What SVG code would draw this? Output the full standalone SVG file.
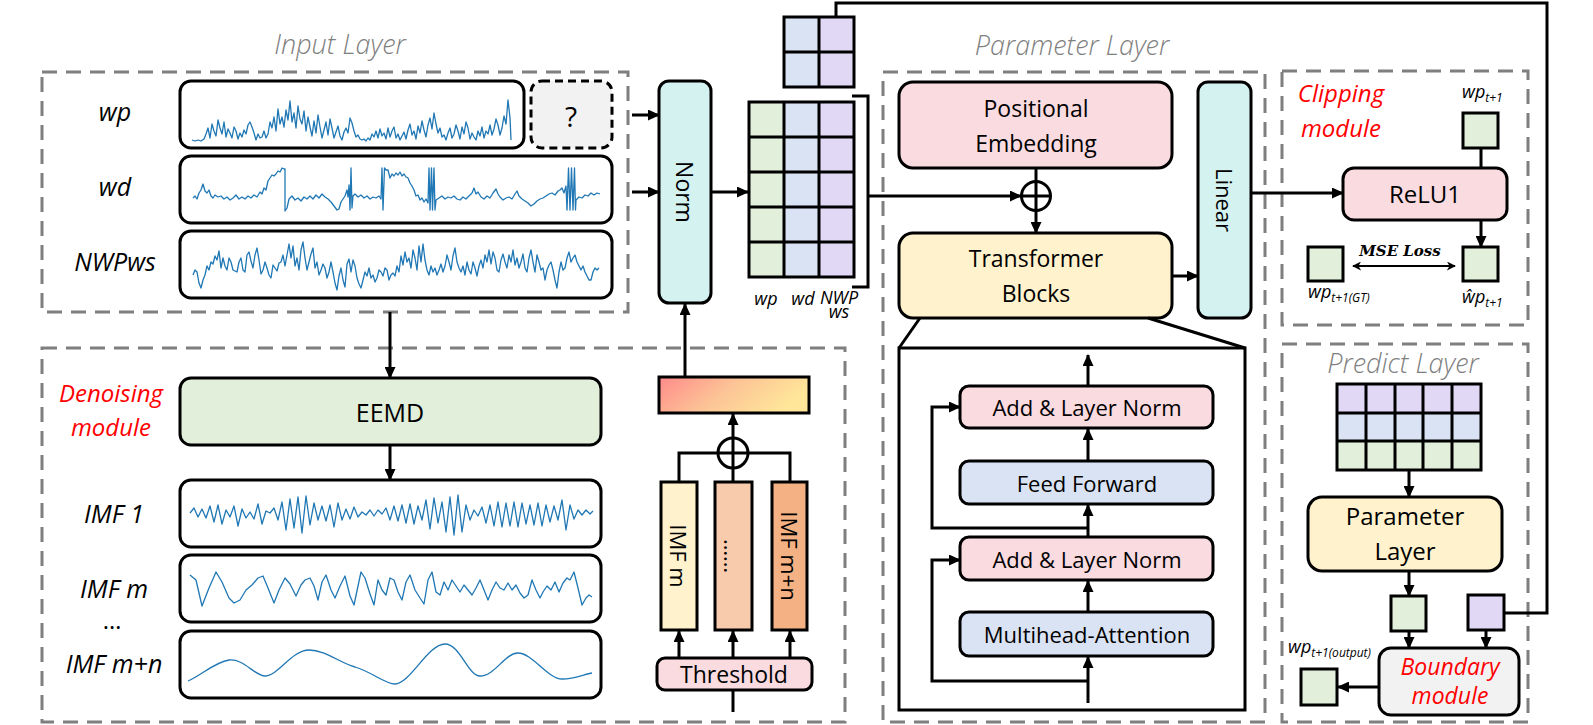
<svg xmlns="http://www.w3.org/2000/svg" width="1593" height="725" viewBox="0 0 1593 725">
<defs>
<marker id="ah" viewBox="0 0 12 11" markerWidth="12" markerHeight="11" refX="11" refY="5.5" orient="auto" markerUnits="userSpaceOnUse"><path d="M0,0 L12,5.5 L0,11 z" fill="#000"/></marker>
<marker id="ahs" viewBox="0 0 10 10" markerWidth="9" markerHeight="9" refX="9" refY="5" orient="auto-start-reverse" markerUnits="userSpaceOnUse"><path d="M0,0 L10,5 L0,10 L3,5 z" fill="#000"/></marker>
<linearGradient id="grad" x1="0" y1="0" x2="1" y2="0.3"><stop offset="0" stop-color="#ff8a8a"/><stop offset="0.5" stop-color="#fcc396"/><stop offset="1" stop-color="#ffe699"/></linearGradient>
<style>
text{font-family:"Open Sans","Noto Sans","Liberation Sans",sans-serif;fill:#000}
.dash{fill:none;stroke:#7f7f7f;stroke-width:3;stroke-dasharray:15 9}
.box{stroke:#000;stroke-width:3}
.pink{fill:#fadbe0}.yel{fill:#fff2cc}.grn{fill:#e2efda}.blu{fill:#dae3f3}.pur{fill:#e1d8f6}.cyan{fill:#d4f2f0}.gry{fill:#f2f2f2}.wht{fill:#fff}
.wave{fill:none;stroke:#1f77b4;stroke-width:1.3;stroke-linejoin:round}
.ln{fill:none;stroke:#000;stroke-width:3}
.arr{fill:none;stroke:#000;stroke-width:3;marker-end:url(#ah)}
.ttl{font-style:italic;font-weight:300;font-size:27px;fill:#7f7f7f}
.lab{font-style:italic;font-size:25px}
.red{font-style:italic;font-size:24px;fill:#ff0000}
.t22{font-size:22px}.t23{font-size:23px}.t24{font-size:24px}
.sm{font-style:italic;font-size:18px}
.sub{font-size:12px}
</style>
</defs>
<rect width="1593" height="725" fill="#fff"/>

<!-- group frames -->
<g id="frames">
<rect class="dash" x="42" y="72" width="586" height="240"/>
<rect class="dash" x="42" y="348" width="803" height="374"/>
<rect class="dash" x="883" y="72" width="382" height="650"/>
<rect class="dash" x="1282" y="71" width="246" height="254"/>
<rect class="dash" x="1282" y="344" width="246" height="378"/>
<text class="ttl" x="340" y="54" text-anchor="middle">Input Layer</text>
<text class="ttl" x="1072" y="55" text-anchor="middle">Parameter Layer</text>
<text class="ttl" x="1403" y="373" text-anchor="middle">Predict Layer</text>
<text class="red" x="111" y="402" text-anchor="middle">Denoising</text>
<text class="red" x="111" y="436" text-anchor="middle">module</text>
<text class="red" x="1341" y="102" text-anchor="middle">Clipping</text>
<text class="red" x="1341" y="137" text-anchor="middle">module</text>
</g>

<!-- input series -->
<g id="input-wp">
<text class="lab" x="115" y="121" text-anchor="middle">wp</text>
<rect class="box wht" x="180" y="81" width="344" height="67" rx="11"/>
<polyline class="wave" points="192,140 195,141 198,140 201,141 204,139 206,134 208,128 210,138 212,124 214,131 216,136 218,120 220,128 222,134 224,122 226,137 228,129 230,133 232,138 234,127 236,131 238,139 240,133 242,137 244,130 246,134 248,125 250,122 252,127 254,133 256,140 258,134 260,138 262,137 264,131 266,138 268,134 270,122 272,128 274,117 276,131 278,109 280,124 282,117 284,127 286,110 288,120 290,101 292,122 294,113 296,128 298,106 300,119 302,124 304,111 306,131 308,117 310,127 312,136 314,121 316,133 318,115 320,127 322,138 324,130 326,122 328,135 330,119 332,128 334,138 336,132 338,126 340,136 342,140 344,132 346,128 348,133 350,118 352,123 354,131 356,137 358,135 360,139 362,140 364,139 366,141 368,138 370,140 372,134 374,137 376,131 378,138 380,129 382,136 384,133 386,139 388,128 390,137 392,131 394,127 396,138 398,134 400,140 402,136 404,132 406,139 408,130 410,124 412,135 414,131 416,139 418,126 420,133 422,121 424,130 426,137 428,125 430,118 432,129 434,113 436,124 438,133 440,128 442,137 444,135 446,140 448,133 450,128 452,138 454,134 456,125 458,131 460,139 462,127 464,134 466,122 468,128 470,139 472,133 474,137 476,140 478,131 480,136 482,127 484,138 486,131 488,134 490,125 492,135 494,129 496,119 498,125 500,135 502,128 504,116 506,124 508,100 510,118 511,140"/>
</g>
<g id="input-unknown">
<rect x="531" y="81" width="81" height="67" rx="11" fill="#f2f2f2" stroke="#000" stroke-width="3" stroke-dasharray="8 5"/>
<text x="571" y="127" text-anchor="middle" style="font-size:28px">?</text>
</g>
<g id="input-wd">
<text class="lab" x="115" y="196" text-anchor="middle">wd</text>
<rect class="box wht" x="180" y="156" width="432" height="67" rx="11"/>
<polyline class="wave" points="193,198 195,196 197,199 199,193 201,190 203,184 205,191 207,193 209,190 211,196 213,198 215,195 218,197 221,196 224,199 227,197 230,200 233,198 236,195 239,199 242,197 245,199 248,196 251,198 254,195 257,197 260,192 262,194 264,188 266,190 268,181 270,178 272,175 274,176 276,174 278,171 280,172 282,168 284,169 285,169 285,211 287,208 289,199 292,196 295,200 298,198 301,201 304,197 307,199 310,196 313,199 316,195 319,198 322,194 325,197 328,199 331,202 334,206 337,210 339,209 341,202 343,199 345,196 347,190 348,197 349,185 350,210 351,168 352,208 353,196 355,194 358,197 361,195 364,198 367,196 370,199 373,197 376,198 379,196 381,199 382,168 383,210 384.5,168 386,170 388,170 390,178 392,174 394,176 396,173 398,175 400,172 402,176 404,174 406,177 408,178 410,183 412,186 414,190 416,196 418,195 420,200 422,198 424,202 426,199 428,203 429,168 430,210 431.5,168 432.5,210 434,168 435,210 436,200 439,198 442,196 445,199 448,197 451,198 454,196 457,199 460,200 463,197 466,199 469,196 472,193 474,188 476,194 478,192 481,197 484,199 487,196 490,198 493,193 496,189 498,194 500,197 503,200 506,198 509,197 512,199 515,194 517,191 519,196 522,199 525,201 528,203 531,206 534,204 537,201 540,199 543,198 546,196 549,194 552,193 555,195 558,191 560,190 562,188 564,193 566,186 567,210 568.5,168 570,210 571.5,168 573,210 574.5,168 575.5,210 576,200 579,197 582,198 585,195 588,196 591,193 594,195 597,193 600,194"/>
</g>
<g id="input-nwpws">
<text class="lab" x="115" y="271" text-anchor="middle">NWPws</text>
<rect class="box wht" x="180" y="231" width="432" height="67" rx="11"/>
<polyline class="wave" points="193,275 195,270 197,272 199,283 201,288 203,280 205,275 207,266 209,270 211,262 213,264 215,256 217,260 219,251 221,268 223,258 225,266 227,270 229,258 231,262 233,270 235,271 237,272 239,262 241,258 243,270 245,272 247,255 249,252 251,261 253,268 255,255 257,248 259,260 261,274 263,270 265,262 267,268 269,275 271,278 273,265 275,268 277,271 279,263 281,262 283,255 285,266 287,255 289,244 291,258 293,246 295,266 297,258 299,270 301,250 303,242 305,258 307,270 309,262 311,254 313,248 315,268 317,262 319,275 321,270 323,264 325,268 327,278 329,272 331,262 333,272 335,283 337,290 339,276 341,268 343,280 345,287 347,264 349,259 351,272 353,260 355,266 357,278 359,284 361,288 363,280 365,272 367,276 369,268 371,278 373,275 375,282 377,278 379,270 381,272 383,276 385,268 387,270 389,280 391,275 393,273 395,276 397,266 399,272 401,256 403,265 405,252 407,262 409,258 411,268 413,250 415,258 417,270 419,246 421,262 423,244 425,260 427,270 429,275 431,266 433,272 435,268 437,275 439,270 441,264 443,272 445,266 447,255 449,262 451,270 453,256 455,248 457,262 459,268 461,272 463,266 465,275 467,262 469,270 471,274 473,262 475,268 477,276 479,266 481,260 483,268 485,255 487,262 489,250 491,264 493,252 495,258 497,270 499,272 501,260 503,254 505,262 507,268 509,255 511,262 513,250 515,265 517,258 519,268 521,262 523,254 525,268 527,272 529,258 531,250 533,262 535,272 537,255 539,262 541,270 543,268 545,280 547,270 549,265 551,262 553,270 555,280 557,288 559,272 561,262 563,270 565,268 567,258 569,252 571,262 573,258 575,255 577,262 579,266 581,270 583,266 585,272 587,276 589,280 591,280 593,272 595,268 597,270 599,268"/>
</g>

<!-- denoising -->
<g id="eemd">
<rect class="box grn" x="180" y="378" width="421" height="67" rx="11"/>
<text x="390" y="422" text-anchor="middle" style="font-size:25px">EEMD</text>
</g>
<g id="imf1">
<text class="lab" x="114" y="523" text-anchor="middle">IMF 1</text>
<rect class="box wht" x="180" y="480" width="421" height="67" rx="11"/>
<polyline class="wave" points="190,513 194,508 198,517 202,509 206,518 210,506 214,522 218,505 222,524 226,510 230,517 234,506 238,526 242,509 246,518 250,512 254,519 258,504 262,524 266,511 270,513 274,508 278,520 282,502 286,530 290,499 294,528 298,497 302,533 306,496 310,525 314,503 318,520 322,506 326,521 330,505 334,527 338,503 342,520 346,509 350,519 354,507 358,517 362,512 366,515 370,510 374,516 378,510 382,514 386,508 390,520 394,506 398,521 402,505 406,523 410,504 414,524 418,506 422,520 426,500 430,529 434,498 438,523 442,502 446,532 450,497 454,535 458,495 462,532 466,505 470,520 474,510 478,516 482,507 486,523 490,505 494,526 498,502 502,527 506,503 510,526 514,502 518,527 522,503 526,524 530,505 534,525 538,503 542,526 546,505 550,522 554,506 558,520 562,500 566,530 570,505 574,519 578,510 582,515 586,510 590,514 593,511"/>
</g>
<g id="imfm">
<text class="lab" x="114" y="598" text-anchor="middle">IMF m</text>
<rect class="box wht" x="180" y="555" width="421" height="67" rx="11"/>
<polyline class="wave" points="190,575 196,580 202,606 209,588 216,572 222,582 229,598 234,603 240,600 246,590 252,585 258,578 263,576 268,588 274,603 279,590 285,578 290,584 296,596 301,585 305,580 310,578 314,586 318,600 322,582 326,575 331,590 335,598 340,586 345,576 350,596 354,605 358,586 361,572 365,578 370,594 374,605 378,580 382,590 386,595 390,578 394,580 398,592 402,600 406,582 410,575 415,590 420,598 424,604 428,580 432,572 436,592 440,595 444,582 448,590 452,580 456,586 460,592 464,585 468,590 472,595 476,588 480,580 484,590 488,600 492,590 496,582 500,588 504,590 508,583 512,590 516,585 520,593 524,598 528,595 532,580 536,590 540,598 543,592 547,586 551,590 555,582 559,592 563,583 567,578 570,580 574,572 578,588 582,605 586,598 589,595 592,597"/>
</g>
<text x="112" y="629" text-anchor="middle" style="font-size:24px">…</text>
<g id="imfmn">
<text class="lab" x="114" y="673" text-anchor="middle">IMF m+n</text>
<rect class="box wht" x="180" y="631" width="421" height="67" rx="11"/>
<path class="wave" d="M188,681 C200,676 215,662 229,660 C243,658 255,676 265,676 C278,676 292,650 309,650 C325,650 340,663 355,667 C372,672 385,684 395,684 C410,684 428,644 445,644 C460,644 468,676 480,676 C495,676 505,653 518,653 C532,653 548,679 562,679 C575,679 585,674 592,673"/>
</g>

<g id="norm">
<rect class="box cyan" x="659" y="81" width="52" height="222" rx="10"/>
<text class="t23" x="685" y="192" text-anchor="middle" dominant-baseline="central" transform="rotate(90 685 192)">Norm</text>
</g>
<g id="gradbar"><rect class="box" x="659" y="377" width="150" height="36" fill="url(#grad)"/></g>
<g id="bar-imfm">
<rect class="box yel" x="661" y="482" width="36" height="148"/>
<text class="t22" x="679" y="556" text-anchor="middle" dominant-baseline="central" transform="rotate(90 679 556)">IMF m</text>
</g>
<g id="bar-dots">
<rect class="box" fill="#f8cbad" x="715" y="482" width="37" height="148"/>
<text class="t22" x="733" y="556" text-anchor="middle" dominant-baseline="central" transform="rotate(90 733 556)">……</text>
</g>
<g id="bar-imfmn">
<rect class="box" fill="#f4b183" x="772" y="482" width="35" height="148"/>
<text class="t22" x="790" y="556" text-anchor="middle" dominant-baseline="central" transform="rotate(90 790 556)">IMF m+n</text>
</g>
<g id="threshold">
<rect class="box pink" x="657" y="658" width="155" height="32" rx="8"/>
<text class="t23" x="734" y="683" text-anchor="middle">Threshold</text>
</g>
<g id="sum2"><circle cx="733" cy="453" r="15" fill="#fff" stroke="#000" stroke-width="3"/><path class="ln" d="M718,453 H748 M733,438 V468"/></g>

<g id="small-matrix">
<rect class="blu" x="784" y="17" width="35" height="35"/><rect class="pur" x="819" y="17" width="35" height="35"/>
<rect class="blu" x="784" y="52" width="35" height="35"/><rect class="pur" x="819" y="52" width="35" height="35"/>
<path class="ln" d="M784,17 H854 V87 H784 Z M819,17 V87 M784,52 H854"/>
</g>
<g id="main-matrix">
<rect class="grn" x="749" y="102" width="35" height="175"/><rect class="blu" x="784" y="102" width="35" height="175"/><rect class="pur" x="819" y="102" width="35" height="175"/>
<path class="ln" d="M749,102 H854 V277 H749 Z M784,102 V277 M819,102 V277 M749,137 H854 M749,172 H854 M749,207 H854 M749,242 H854"/>
<text class="sm" x="766" y="305" text-anchor="middle">wp</text>
<text class="sm" x="803" y="305" text-anchor="middle">wd</text>
<text class="sm" x="839" y="304" text-anchor="middle">NWP<tspan x="839" dy="14">ws</tspan></text>
</g>

<g id="posemb">
<rect class="box pink" x="899" y="82" width="273" height="86" rx="14"/>
<text class="t23" x="1036" y="117" text-anchor="middle">Positional</text>
<text class="t23" x="1036" y="152" text-anchor="middle">Embedding</text>
</g>
<g id="sum1"><circle cx="1036" cy="196" r="14.5" fill="#fff" stroke="#000" stroke-width="3"/><path class="ln" d="M1021.5,196 H1050.5 M1036,181.5 V210.5"/></g>
<g id="transformer">
<rect class="box yel" x="899" y="233" width="273" height="85" rx="14"/>
<text class="t23" x="1036" y="267" text-anchor="middle">Transformer</text>
<text class="t23" x="1036" y="302" text-anchor="middle">Blocks</text>
</g>
<g id="linear">
<rect class="box cyan" x="1198" y="82" width="53" height="236" rx="10"/>
<text class="t22" x="1224.5" y="200" text-anchor="middle" dominant-baseline="central" transform="rotate(90 1224.5 200)">Linear</text>
</g>
<g id="detail">
<rect class="box wht" x="899" y="348" width="346" height="362"/>
<path class="ln" d="M920,318 L899,348 M1148,318 L1245,348"/>
</g>
<g id="aln1"><rect class="box pink" x="960" y="386" width="253" height="42" rx="9"/><text class="t22" x="1087" y="416" text-anchor="middle">Add &amp; Layer Norm</text></g>
<g id="ff"><rect class="box blu" x="960" y="461" width="253" height="43" rx="9"/><text class="t22" x="1087" y="492" text-anchor="middle">Feed Forward</text></g>
<g id="aln2"><rect class="box pink" x="960" y="537" width="253" height="43" rx="9"/><text class="t22" x="1087" y="568" text-anchor="middle">Add &amp; Layer Norm</text></g>
<g id="mha"><rect class="box blu" x="960" y="612" width="253" height="44" rx="9"/><text class="t22" x="1087" y="643" text-anchor="middle">Multihead-Attention</text></g>

<g id="clip-wp">
<text class="sm" x="1462" y="98">wp<tspan class="sub" dy="4">t+1</tspan></text>
<rect class="box grn" x="1463" y="113" width="35" height="35"/>
</g>
<g id="relu1"><rect class="box pink" x="1343" y="168" width="164" height="52" rx="11"/><text class="t24" x="1425" y="203" text-anchor="middle">ReLU1</text></g>
<g id="gt"><rect class="box grn" x="1308" y="247" width="35" height="34"/><text class="sm" x="1308" y="298">wp<tspan class="sub" dy="4">t+1(GT)</tspan></text></g>
<g id="hat"><rect class="box grn" x="1463" y="247" width="35" height="34"/><text class="sm" x="1462" y="303">ŵp<tspan class="sub" dy="4">t+1</tspan></text></g>
<text x="1400" y="256" text-anchor="middle" style="font-family:'DejaVu Serif','Liberation Serif',serif;font-style:italic;font-weight:bold;font-size:15px">MSE Loss</text>

<g id="pred-grid">
<rect class="pur" x="1337" y="384" width="144" height="29"/><rect class="blu" x="1337" y="413" width="144" height="28"/><rect class="grn" x="1337" y="441" width="144" height="29"/>
<path class="ln" d="M1337,384 H1481 V470 H1337 Z M1366,384 V470 M1395,384 V470 M1423,384 V470 M1452,384 V470 M1337,413 H1481 M1337,441 H1481"/>
</g>
<g id="param-box"><rect class="box yel" x="1308" y="497" width="194" height="74" rx="14"/><text class="t24" x="1405" y="525" text-anchor="middle">Parameter</text><text class="t24" x="1405" y="560" text-anchor="middle">Layer</text></g>
<g id="pred-green"><rect class="box grn" x="1391" y="596" width="35" height="35"/></g>
<g id="pred-purple"><rect class="box pur" x="1468" y="595" width="36" height="35"/></g>
<g id="boundary"><rect class="box gry" x="1379" y="648" width="140" height="67" rx="12"/><text class="red" x="1450" y="675" text-anchor="middle" style="font-size:23px">Boundary</text><text class="red" x="1450" y="704" text-anchor="middle" style="font-size:23px">module</text></g>
<g id="output"><text class="sm" x="1288" y="653">wp<tspan class="sub" dy="4">t+1(output)</tspan></text><rect class="box grn" x="1301" y="669" width="36" height="36"/></g>

<g id="connectors">
<path class="arr" d="M632,115 H659"/>
<path class="arr" d="M632,192 H659"/>
<path class="arr" d="M711,192 H748"/>
<path class="arr" d="M685,377 V304"/>
<path class="arr" d="M390,312 V378"/>
<path class="arr" d="M390,445 V480"/>
<path class="arr" d="M733,438 V414"/>
<path class="ln" d="M733,468 V482 M679,482 V453 H718 M748,453 H790 V482"/>
<path class="arr" d="M679,658 V631"/>
<path class="arr" d="M733,658 V631"/>
<path class="arr" d="M790,658 V631"/>
<path class="ln" d="M733,690 V712"/>
<path class="ln" d="M852,96 H868 V287 H852"/>
<path class="arr" d="M868,196 H1021"/>
<path class="ln" d="M1036,168 V181.5"/>
<path class="arr" d="M1036,210.5 V233"/>
<path class="arr" d="M1172,276 H1198"/>
<path class="arr" d="M1251,193 H1343"/>
<path class="ln" d="M836,17 V3 H1547 V613 H1504"/>
<path class="arr" d="M1088,386 V355"/>
<path class="arr" d="M1088,461 V429"/>
<path class="arr" d="M1088,537 V505"/>
<path class="arr" d="M1088,612 V581"/>
<path class="arr" d="M1088,703 V657"/>
<path class="arr" d="M1088,528 H932 V407 H960"/>
<path class="arr" d="M1088,681 H932 V560 H960"/>
<path class="ln" d="M1481,148 V168"/>
<path class="arr" d="M1481,220 V247"/>
<path d="M1353,266 H1455" fill="none" stroke="#000" stroke-width="2" marker-start="url(#ahs)" marker-end="url(#ahs)"/>
<path class="arr" d="M1409,470 V497"/>
<path class="arr" d="M1409,571 V596"/>
<path class="arr" d="M1409,631 V648"/>
<path class="arr" d="M1486,630 V648"/>
<path class="arr" d="M1379,687 H1338"/>
</g>
</svg>
